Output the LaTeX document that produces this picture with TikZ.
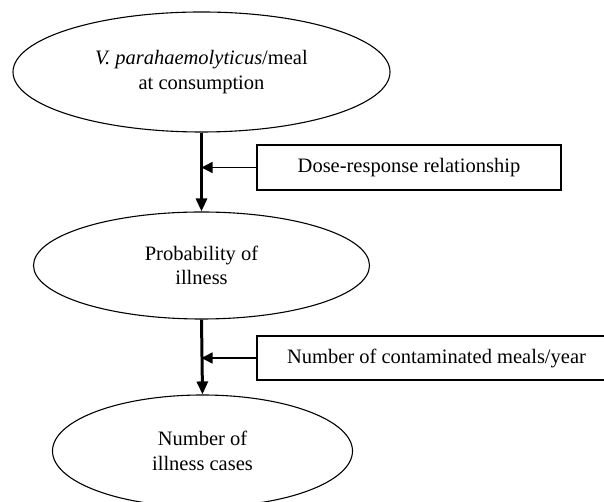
\documentclass[tikz,border=0pt]{standalone}
\usepackage{fontspec}
\setmainfont{Liberation Serif}
\usetikzlibrary{shapes.geometric,arrows.meta}
\begin{document}
\begin{tikzpicture}[x=1pt,y=1pt,
  every node/.style={font=\fontsize{20.5}{24.5}\selectfont},
  oval/.style={draw, ellipse, line width=1.1pt, inner sep=0pt, align=center},
  factor/.style={draw, rectangle, line width=1.3pt, inner sep=0pt},
  mainarrow/.style={line width=3pt, -{Triangle[length=13pt,width=11pt]}},
  sidearrow/.style={line width=1.4pt, -{Triangle[length=11pt,width=11pt]}}]
\clip (0,0) rectangle (604,502);
\node[oval, minimum width=377pt, minimum height=120pt] (e1) at (201.5,430) {\textit{V. parahaemolyticus}/meal\\at consumption};
\node[oval, minimum width=336pt, minimum height=107pt] (e2) at (201.5,236.5) {Probability of\\illness};
\node[oval, minimum width=300pt, minimum height=112pt] (e3) at (202.5,51) {Number of\\illness cases};
\node[factor, minimum width=304pt, minimum height=45pt] (b1) at (409,334.5) {Dose-response relationship};
\node[factor, minimum width=359pt, minimum height=44pt] (b2) at (436.5,144) {Number of contaminated meals/year};
\draw[mainarrow] (e1.south) -- (e2.north);
\draw[mainarrow] (e2.south) -- (e3.north);
\draw[sidearrow] (b1.west) -- (b1.west -| e1.south);
\draw[sidearrow] (b2.west) -- (b2.west -| e2.south);
\end{tikzpicture}
\end{document}
